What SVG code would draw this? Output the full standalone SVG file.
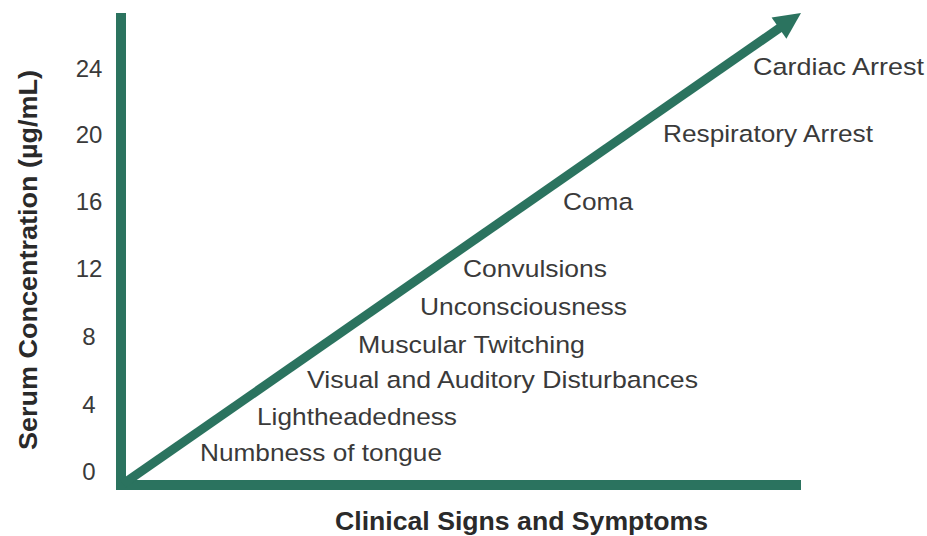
<svg xmlns="http://www.w3.org/2000/svg" width="927" height="536" viewBox="0 0 927 536">
<style>
.lbl{font-family:"Liberation Sans",Arial,sans-serif;font-size:24.5px;fill:#3a3a3a;}
.tick{font-family:"Liberation Sans",Arial,sans-serif;font-size:24px;fill:#3a3a3a;text-anchor:middle;}
.ttl{font-family:"Liberation Sans",Arial,sans-serif;font-size:25px;font-weight:bold;fill:#2a2a2a;}
.ax{fill:#2b735f;}
</style>
<rect width="927" height="536" fill="#ffffff"/>
<g id="connectors">
  <rect class="ax" x="116" y="13" width="10" height="477"/>
  <rect class="ax" x="116" y="480" width="685" height="10"/>
  <line x1="123" y1="484" x2="781" y2="27" stroke="#2b735f" stroke-width="9"/>
  <polygon class="ax" points="801,13 786.4,38.8 771.6,17.6"/>
</g>
<g id="y-ticks">
  <text class="tick" x="89" y="77">24</text>
  <text class="tick" x="89" y="143">20</text>
  <text class="tick" x="89" y="210">16</text>
  <text class="tick" x="89" y="277">12</text>
  <text class="tick" x="89" y="345">8</text>
  <text class="tick" x="89" y="413">4</text>
  <text class="tick" x="89" y="480">0</text>
</g>
<g id="y-title">
  <text class="ttl" transform="translate(37,450) rotate(-90)" x="0" y="0" textLength="380" lengthAdjust="spacingAndGlyphs">Serum Concentration (µg/mL)</text>
</g>
<g id="x-title">
  <text class="ttl" x="335" y="530" textLength="373" lengthAdjust="spacingAndGlyphs">Clinical Signs and Symptoms</text>
</g>
<g id="cardiac-arrest"><text class="lbl" x="753" y="75" textLength="171" lengthAdjust="spacingAndGlyphs">Cardiac Arrest</text></g>
<g id="respiratory-arrest"><text class="lbl" x="663" y="142" textLength="210" lengthAdjust="spacingAndGlyphs">Respiratory Arrest</text></g>
<g id="coma"><text class="lbl" x="563" y="210" textLength="70" lengthAdjust="spacingAndGlyphs">Coma</text></g>
<g id="convulsions"><text class="lbl" x="463" y="277" textLength="144" lengthAdjust="spacingAndGlyphs">Convulsions</text></g>
<g id="unconsciousness"><text class="lbl" x="420" y="315" textLength="207" lengthAdjust="spacingAndGlyphs">Unconsciousness</text></g>
<g id="muscular-twitching"><text class="lbl" x="358" y="353" textLength="227" lengthAdjust="spacingAndGlyphs">Muscular Twitching</text></g>
<g id="visual-auditory"><text class="lbl" x="307" y="388" textLength="391" lengthAdjust="spacingAndGlyphs">Visual and Auditory Disturbances</text></g>
<g id="lightheadedness"><text class="lbl" x="257" y="425" textLength="200" lengthAdjust="spacingAndGlyphs">Lightheadedness</text></g>
<g id="numbness"><text class="lbl" x="200" y="461" textLength="242" lengthAdjust="spacingAndGlyphs">Numbness of tongue</text></g>
</svg>
